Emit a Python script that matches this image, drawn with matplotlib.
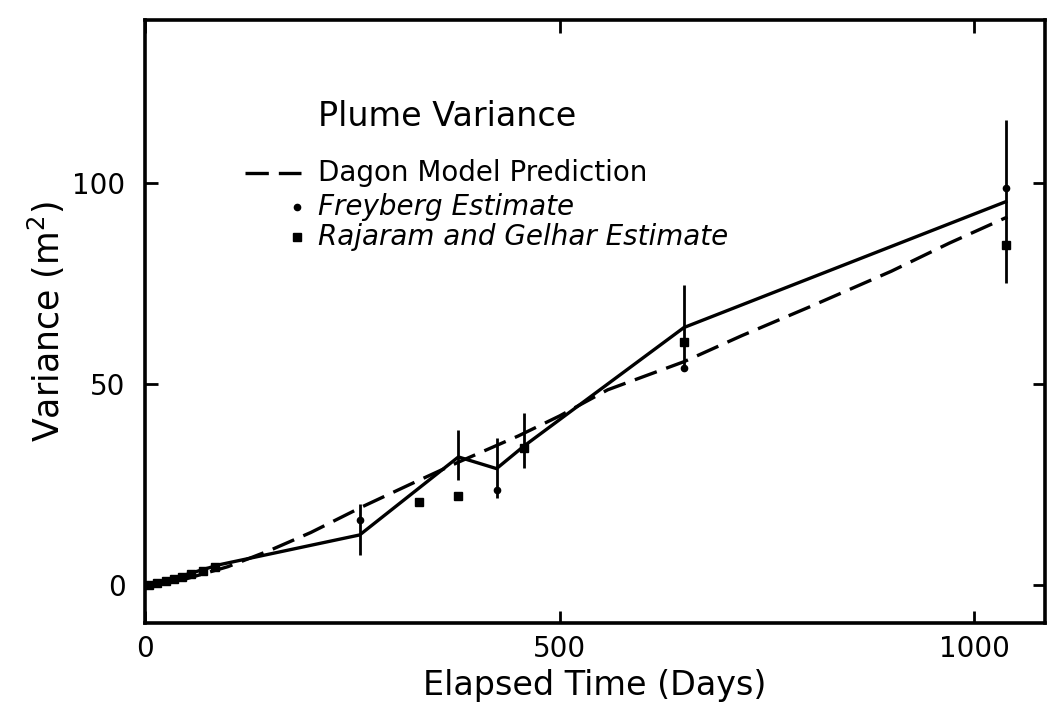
import matplotlib.pyplot as plt

# measured plume variance (solid line)
time_days = [0, 90, 259, 378, 424, 457, 650, 1038]
variance = [-0.5, 5, 12.4, 31.8, 28.9, 34.5, 64, 95.3]

# error bars on measured variance
err_x = [259, 378, 424, 457, 650, 1038]
err_lo = [7.5, 26, 21.5, 29, 53.5, 75]
err_hi = [20, 38.5, 36.5, 42.8, 74.6, 115.7]

# Dagan model prediction (dashed)
model_x = [0, 50, 100, 150, 200, 263, 320, 378, 450, 500, 558, 650, 720, 800, 900, 970, 1040]
model_y = [0, 1.5, 4.5, 8.5, 13, 19.5, 25, 30.5, 37, 42, 48.5, 55.5, 62, 69, 78, 85, 91.5]

# Freyberg estimates (dots)
frey_x = [259, 424, 650, 1038]
frey_y = [16, 23.6, 54, 98.8]

# Rajaram and Gelhar estimates (squares)
raj_x = [5, 15, 25, 35, 45, 55, 70, 85, 330, 378, 457, 650, 1038]
raj_y = [0, 0.5, 1, 1.5, 2, 2.7, 3.5, 4.5, 20.6, 22, 34, 60.4, 84.6]

plt.rcParams["font.family"] = ["DejaVu Sans"]

fig = plt.figure(figsize=(10.5, 7.14), dpi=100)
ax = fig.add_axes([0.138, 0.1275, 0.857, 0.8445])

ax.plot(time_days, variance, color="black", linewidth=2.4)
ax.plot(model_x, model_y, color="black", linewidth=2.4, dashes=(7, 3))
ax.vlines(err_x, err_lo, err_hi, color="black", linewidth=2.0)
ax.plot(frey_x, frey_y, "o", color="black", markersize=4.5)
ax.plot(raj_x, raj_y, "s", color="black", markersize=5.5)

ax.set_xlim(0, 1085)
ax.set_ylim(-9.5, 140.5)
ax.set_xticks([0, 500, 1000])
ax.set_yticks([0, 50, 100])
ax.tick_params(direction="in", length=9, width=2.0, labelsize=20,
               top=True, right=True)
ax.tick_params(axis="x", pad=9)
ax.tick_params(axis="y", pad=14)
for spine in ax.spines.values():
    spine.set_linewidth(2.6)

ax.set_xlabel("Elapsed Time (Days)", fontsize=24, labelpad=4)
ax.set_ylabel("Variance (m$^2$)", fontsize=25, labelpad=4)

# hand-placed legend like the original figure
ax.text(0.192, 0.84, "Plume Variance", transform=ax.transAxes,
        fontsize=24, va="center", ha="left")
ax.plot([0.111, 0.174], [0.747, 0.747], transform=ax.transAxes,
        color="black", linewidth=2.4, dashes=(7, 3))
ax.text(0.192, 0.747, "Dagon Model Prediction", transform=ax.transAxes,
        fontsize=20, va="center", ha="left")
ax.plot([0.169], [0.69], "o", transform=ax.transAxes, color="black", markersize=4.5)
ax.text(0.192, 0.69, "Freyberg Estimate", transform=ax.transAxes,
        fontsize=20, va="center", ha="left", style="italic")
ax.plot([0.169], [0.64], "s", transform=ax.transAxes, color="black", markersize=5.5)
ax.text(0.192, 0.64, "Rajaram and Gelhar Estimate", transform=ax.transAxes,
        fontsize=20, va="center", ha="left", style="italic")

fig.savefig("out.png", dpi=100)
